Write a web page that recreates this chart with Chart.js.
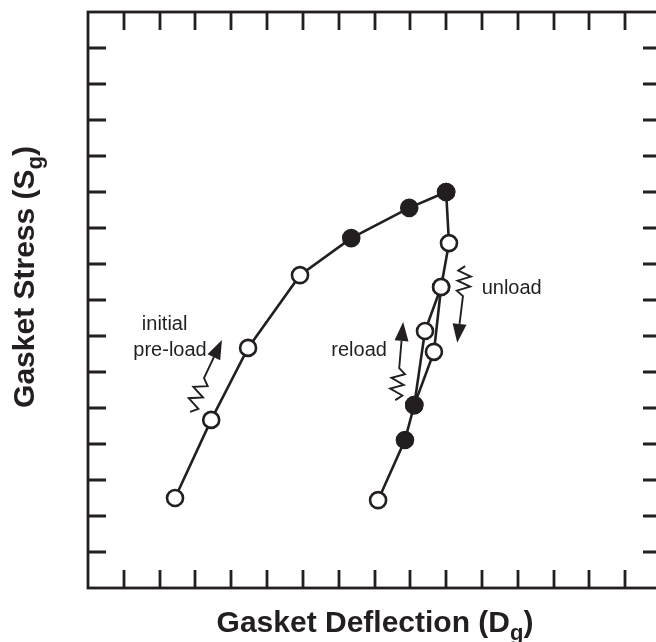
<!DOCTYPE html>
<html>
<head>
<meta charset="utf-8">
<style>
  html, body { margin: 0; padding: 0; overflow: hidden; background: #fff; }
  canvas { display: block; }
</style>
<script src="https://cdn.jsdelivr.net/npm/chart.js@4.4.1/dist/chart.umd.min.js"></script>
</head>
<body>
<canvas id="chart" width="680" height="642"></canvas>
<script>
// axis range (grid units, no numeric labels in the original)
var axisMin = 0;
var axisMax = 16;

// initial pre-load curve
var preloadDefl   = [2.43, 3.44, 4.47, 5.92, 7.35, 8.97, 10.0];
var preloadStress = [2.50, 4.67, 6.67, 8.69, 9.72, 10.56, 11.0];
var preloadSolid  = [false, false, false, false, true, true, true];

// unload curve
var unloadDefl   = [10.0, 10.08, 9.86, 9.66, 9.11, 8.85, 8.10];
var unloadStress = [11.0, 9.58, 8.36, 6.56, 5.08, 4.11, 2.44];
var unloadSolid  = [true, false, false, false, true, true, false];

// reload curve
var reloadDefl   = [9.11, 9.41, 9.86];
var reloadStress = [5.08, 7.14, 8.36];
var reloadSolid  = [true, false, false];

var INK = '#231f20';

function toPoints(xs, ys) {
    return xs.map(function(x, i) { return {x: x, y: ys[i]}; });
}

function fills(flags) {
    return flags.map(function(f) { return f ? INK : '#ffffff'; });
}

function series(label, xs, ys, solid) {
    return {
        label: label,
        data: toPoints(xs, ys),
        showLine: true,
        borderColor: INK,
        borderWidth: 2.6,
        tension: 0,
        pointRadius: 8,
        pointBorderWidth: 2.6,
        pointBorderColor: INK,
        pointBackgroundColor: fills(solid)
    };
}

//----------------------------------------------------------------------------------------------------------------------
// frame, inward ticks, axis titles with subscripts
//----------------------------------------------------------------------------------------------------------------------

function subText(ctx, head, sub, tail, size, x, y) {
    var big = 'bold ' + size + 'px "Liberation Sans", Arial, sans-serif';
    var small = 'bold ' + Math.round(size * 0.72) + 'px "Liberation Sans", Arial, sans-serif';
    ctx.font = big;
    var w1 = ctx.measureText(head).width;
    var w3 = ctx.measureText(tail).width;
    ctx.font = small;
    var w2 = ctx.measureText(sub).width;
    var start = x - (w1 + w2 + w3) / 2;
    ctx.textAlign = 'left';
    ctx.textBaseline = 'alphabetic';
    ctx.font = big;
    ctx.fillText(head, start, y);
    ctx.font = small;
    ctx.fillText(sub, start + w1, y + size * 0.26);
    ctx.font = big;
    ctx.fillText(tail, start + w1 + w2, y);
}

var framePlugin = {
    id: 'frame',
    beforeDatasetsDraw: function(chart) {
        var ctx = chart.ctx, a = chart.chartArea;
        var xs = chart.scales.x, ys = chart.scales.y;
        var tick = 18;
        ctx.save();
        ctx.strokeStyle = INK;
        ctx.lineWidth = 2.8;
        ctx.lineCap = 'butt';
        ctx.strokeRect(a.left, a.top, a.right - a.left, a.bottom - a.top);
        ctx.beginPath();
        for (var v = axisMin + 1; v < axisMax; v++) {
            var px = Math.round(xs.getPixelForValue(v));
            ctx.moveTo(px, a.bottom); ctx.lineTo(px, a.bottom - tick);
            ctx.moveTo(px, a.top);    ctx.lineTo(px, a.top + tick);
            var py = Math.round(ys.getPixelForValue(v));
            ctx.moveTo(a.left, py);  ctx.lineTo(a.left + tick, py);
            ctx.moveTo(a.right, py); ctx.lineTo(a.right - tick, py);
        }
        ctx.stroke();

        ctx.fillStyle = INK;
        subText(ctx, 'Gasket Deflection (D', 'g', ')', 30, 375, 632);
        ctx.translate(34, 277);
        ctx.rotate(-Math.PI / 2);
        subText(ctx, 'Gasket Stress (S', 'g', ')', 30, 0, 0);
        ctx.restore();
    }
};

//----------------------------------------------------------------------------------------------------------------------
// spring-tailed arrows and notes
//----------------------------------------------------------------------------------------------------------------------

// [springStartX, springStartY, springEndX, springEndY, tipX, tipY] in data units
var arrows = [
    [2.85, 4.89, 3.24, 5.83, 3.74, 6.89],
    [8.58, 5.22, 8.69, 6.11, 8.80, 7.39],
    [10.53, 8.94, 10.47, 8.11, 10.31, 6.81]
];

var notes = [
    ['initial', 2.14, 7.33],
    ['pre-load', 2.29, 6.61],
    ['reload', 7.57, 6.61],
    ['unload', 11.83, 8.31]
];

var notesPlugin = {
    id: 'notes',
    afterDatasetsDraw: function(chart) {
        var ctx = chart.ctx;
        var xs = chart.scales.x, ys = chart.scales.y;
        ctx.save();
        ctx.strokeStyle = INK;
        ctx.fillStyle = INK;
        ctx.lineWidth = 1.9;
        ctx.lineJoin = 'miter';

        arrows.forEach(function(r) {
            var x0 = xs.getPixelForValue(r[0]), y0 = ys.getPixelForValue(r[1]);
            var x1 = xs.getPixelForValue(r[2]), y1 = ys.getPixelForValue(r[3]);
            var x2 = xs.getPixelForValue(r[4]), y2 = ys.getPixelForValue(r[5]);
            var dx = x1 - x0, dy = y1 - y0, len = Math.sqrt(dx * dx + dy * dy);
            var nx = -dy / len, ny = dx / len;
            var n = 6, amp = 6.5;
            ctx.beginPath();
            ctx.moveTo(x0, y0);
            for (var i = 1; i < n; i++) {
                var t = i / n, s = (i % 2 ? 1 : -1) * amp;
                ctx.lineTo(x0 + dx * t + nx * s, y0 + dy * t + ny * s);
            }
            ctx.lineTo(x1, y1);
            var ex = x2 - x1, ey = y2 - y1, el = Math.sqrt(ex * ex + ey * ey);
            var ux = ex / el, uy = ey / el, head = 19, half = 7;
            ctx.lineTo(x2 - ux * head, y2 - uy * head);
            ctx.stroke();
            ctx.beginPath();
            ctx.moveTo(x2, y2);
            ctx.lineTo(x2 - ux * head - uy * half, y2 - uy * head + ux * half);
            ctx.lineTo(x2 - ux * head + uy * half, y2 - uy * head - ux * half);
            ctx.closePath();
            ctx.fill();
        });

        ctx.font = '20px "Liberation Sans", Arial, sans-serif';
        ctx.textAlign = 'center';
        ctx.textBaseline = 'middle';
        notes.forEach(function(n) {
            ctx.fillText(n[0], xs.getPixelForValue(n[1]), ys.getPixelForValue(n[2]));
        });
        ctx.restore();
    }
};

new Chart(document.getElementById('chart'), {
    type: 'scatter',
    data: {
        datasets: [
            series('initial pre-load', preloadDefl, preloadStress, preloadSolid),
            series('unload', unloadDefl, unloadStress, unloadSolid),
            series('reload', reloadDefl, reloadStress, reloadSolid)
        ]
    },
    options: {
        responsive: false,
        animation: false,
        events: [],
        layout: {
            padding: { left: 88, top: 12, right: 19, bottom: 54 }
        },
        plugins: {
            legend: { display: false },
            tooltip: { enabled: false }
        },
        scales: {
            x: { type: 'linear', min: axisMin, max: axisMax, display: false },
            y: { type: 'linear', min: axisMin, max: axisMax, display: false }
        }
    },
    plugins: [framePlugin, notesPlugin]
});
</script>
</body>
</html>
